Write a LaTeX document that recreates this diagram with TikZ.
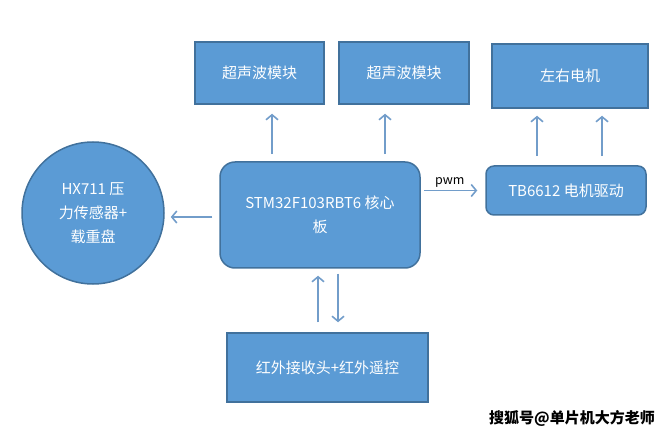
\documentclass[tikz,border=0pt]{standalone}
\usepackage{fontspec}
\setmainfont{Noto Sans CJK SC}
\usetikzlibrary{arrows.meta,calc}
\definecolor{boxfill}{HTML}{5B9BD5}
\definecolor{boxline}{HTML}{41719C}
\definecolor{arrcol}{HTML}{729DCA}
\tikzset{
  blk/.style={draw=boxline,fill=boxfill,line width=1.5pt,text=white,font=\fontsize{15}{24}\selectfont,align=center,inner sep=2pt},
  arr/.style={draw=arrcol,line width=1.8pt,-{Straight Barb[length=5pt,width=12pt,line width=1.6pt]}}
}
\begin{document}
\begin{tikzpicture}[x=1pt,y=-1pt]
\useasboundingbox (0,0) rectangle (671,435);
\node[blk,minimum width=129pt,minimum height=62pt] (us1) at (259.5,73) {超声波模块};
\node[blk,minimum width=130pt,minimum height=62pt] (us2) at (404,73) {超声波模块};
\node[blk,minimum width=156pt,minimum height=64pt] (mot) at (570,76) {左右电机};
\node[blk,rounded corners=15pt,minimum width=200pt,minimum height=106pt] (core) at (320,215) {STM32F103RBT6 核心\\板};
\node[blk,rounded corners=8pt,minimum width=160pt,minimum height=49pt] (drv) at (566,190.5) {TB6612 电机驱动};
\node[blk,circle,minimum size=142pt] (hx) at (93,213) {HX711 压\\力传感器+\\载重盘};
\node[blk,minimum width=201pt,minimum height=69pt] (ir) at (327.5,367.5) {红外接收头+红外遥控};
% arrows
\draw[arr,shorten <=7pt,shorten >=9pt] ([xshift=12.5pt]us1.south |- core.north) -- ([xshift=12.5pt]us1.south);
\draw[arr,shorten <=7pt,shorten >=9pt] ([xshift=-19pt]us2.south |- core.north) -- ([xshift=-19pt]us2.south);
\draw[arr,shorten <=9pt,shorten >=7pt] ([xshift=-33pt]mot.south |- drv.north) -- ([xshift=-33pt]mot.south);
\draw[arr,shorten <=9pt,shorten >=7pt] ([xshift=32pt]mot.south |- drv.north) -- ([xshift=32pt]mot.south);
\draw[arr,shorten <=3pt,shorten >=8pt] (drv.west -| core.east) -- node[pos=0.45,above=-1pt,text=black,font=\fontsize{12.5}{14}\selectfont] (pwm) {pwm} (drv.west);
\draw[arr,shorten <=7pt,shorten >=6pt] ([yshift=-2pt]core.west) -- ([yshift=-2pt]core.west -| hx.east);
\draw[arr,shorten <=10pt,shorten >=7pt] ([xshift=-9.5pt]ir.north) -- ([xshift=-9.5pt]ir.north |- core.south);
\draw[arr,shorten <=5pt,shorten >=10pt] ([xshift=10.5pt]ir.north |- core.south) -- ([xshift=10.5pt]ir.north);
\node[font=\bfseries\fontsize{15}{18}\selectfont,text=black] (wm) at (572,418) {搜狐号@单片机大方老师};
\end{tikzpicture}
\end{document}
